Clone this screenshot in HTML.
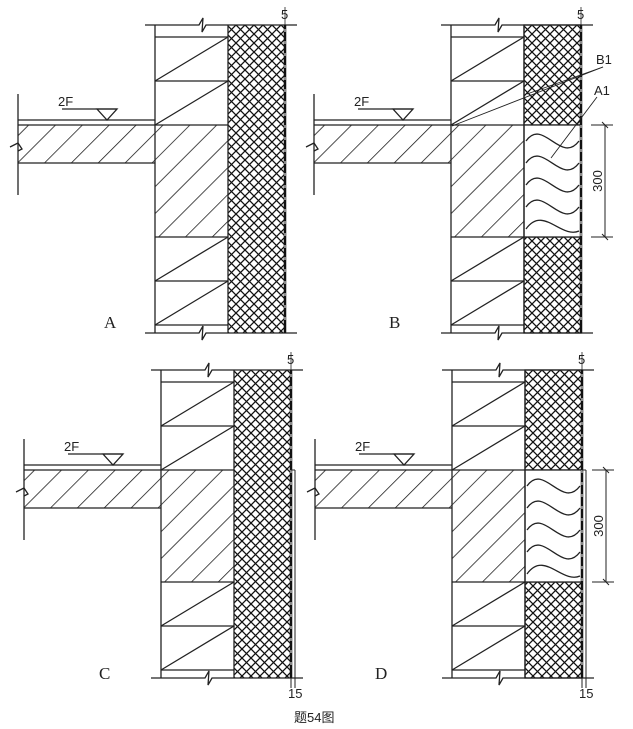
<!DOCTYPE html>
<html><head><meta charset="utf-8"><style>
html,body{margin:0;padding:0;background:#fff;width:633px;height:729px;overflow:hidden}
svg{display:block}
text{font-family:"Liberation Sans","Noto Sans CJK SC",sans-serif;fill:#222}
.s{font-family:"Liberation Serif",serif;font-size:17px}
</style></head><body>
<svg width="633" height="729" viewBox="0 0 633 729" xmlns="http://www.w3.org/2000/svg">
<defs>
<pattern id="xh" width="9" height="9" patternUnits="userSpaceOnUse">
<path d="M0 0L9 9M9 0L0 9" stroke="#111" stroke-width="1.3"/>
</pattern>
<pattern id="dh" width="19" height="19" patternUnits="userSpaceOnUse" patternTransform="rotate(45)">
<line x1="0" y1="0" x2="0" y2="19" stroke="#111" stroke-width="1.5"/>
</pattern>
<g id="base" fill="none" stroke="#222" stroke-width="1.3">
<rect x="-137" y="100" width="137" height="38" fill="url(#dh)" stroke="none"/>
<rect x="0" y="100" width="73" height="112" fill="url(#dh)" stroke="none"/>
<line x1="-137" y1="95" x2="0" y2="95"/>
<line x1="-137" y1="100" x2="73" y2="100"/>
<line x1="-137" y1="138" x2="0" y2="138"/>
<line x1="-137" y1="69" x2="-137" y2="170"/>
<path d="M-145 122 L-137 118 L-133 124 L-137 126"/>
<line x1="-93" y1="84" x2="-38" y2="84"/>
<path d="M-58 84 L-38 84 L-48 95 Z"/>
<line x1="0" y1="0" x2="0" y2="308"/>
<line x1="73" y1="0" x2="73" y2="308"/>
<line x1="0" y1="12" x2="73" y2="12"/>
<line x1="0" y1="56" x2="73" y2="56"/>
<line x1="0" y1="56" x2="73" y2="12"/>
<line x1="0" y1="100" x2="73" y2="56"/>
<line x1="0" y1="212" x2="73" y2="212"/>
<line x1="0" y1="256" x2="73" y2="256"/>
<line x1="0" y1="300" x2="73" y2="300"/>
<line x1="0" y1="256" x2="73" y2="212"/>
<line x1="0" y1="300" x2="73" y2="256"/>
<path d="M-10 0 L44 0 L48 -7 L47 7 L51 0 L142 0"/>
<path d="M-10 308 L44 308 L48 301 L47 315 L51 308 L142 308"/>
<line x1="130" y1="0" x2="130" y2="308" stroke="#111" stroke-width="2.5"/>
<line x1="130" y1="4" x2="130" y2="304" stroke="#fff" stroke-width="1" stroke-dasharray="3 9"/>
<line x1="130" y1="-18" x2="130" y2="0" stroke-width="0.8"/>
</g>
<g id="xfull"><rect x="73" y="0" width="57" height="308" fill="url(#xh)" stroke="#222"/></g>
<g id="xsplit" stroke="#222" stroke-width="1.3">
<rect x="73" y="0" width="57" height="100" fill="url(#xh)"/>
<rect x="73" y="212" width="57" height="96" fill="url(#xh)"/>
<rect x="73" y="100" width="57" height="112" fill="#fff"/>
<path fill="none" d="M75 116 C92 92,110 140,128 116 M75 138 C92 114,110 162,128 138 M75 160 C92 136,110 184,128 160 M75 182 C92 158,110 206,128 182 M75 204 C92 180,110 214,128 206"/>
</g>
<g id="dim" stroke="#222" stroke-width="1" fill="none">
<line x1="154" y1="100" x2="154" y2="212"/>
<line x1="140" y1="100" x2="162" y2="100"/>
<line x1="140" y1="212" x2="162" y2="212"/>
<path d="M151 97 L157 103 M151 209 L157 215"/>
</g>
<g id="out15" stroke="#222" stroke-width="1" fill="none">
<line x1="134" y1="100" x2="134" y2="312"/>
<line x1="130" y1="100" x2="134" y2="100"/>
<line x1="130" y1="308" x2="130" y2="318"/>
<line x1="134" y1="308" x2="134" y2="318"/>
</g>
</defs>

<g transform="translate(155,25)">
<use href="#xfull"/><use href="#base"/>
<text x="-97" y="81" font-size="13">2F</text>
<text x="126" y="-6" font-size="13">5</text>
</g>
<text class="s" x="104" y="328">A</text>

<g transform="translate(451,25)">
<use href="#xsplit"/><use href="#base"/><use href="#dim"/>
<text x="-97" y="81" font-size="13">2F</text>
<text x="126" y="-6" font-size="13">5</text>
<text x="0" y="0" font-size="13" transform="translate(151,156) rotate(-90)" text-anchor="middle">300</text>
<g stroke="#222" stroke-width="0.9"><line x1="152" y1="42" x2="1" y2="101"/><line x1="152" y1="42" x2="76" y2="69"/><line x1="146" y1="72" x2="100" y2="133"/></g>
<text x="145" y="39" font-size="13">B1</text>
<text x="143" y="70" font-size="13">A1</text>
</g>
<text class="s" x="389" y="328">B</text>

<g transform="translate(161,370)">
<use href="#xfull"/><use href="#base"/><use href="#out15"/>
<text x="-97" y="81" font-size="13">2F</text>
<text x="126" y="-6" font-size="13">5</text>
<text x="127" y="328" font-size="13">15</text>
</g>
<text class="s" x="99" y="679">C</text>

<g transform="translate(452,370)">
<use href="#xsplit"/><use href="#base"/><use href="#out15"/><use href="#dim"/>
<text x="-97" y="81" font-size="13">2F</text>
<text x="126" y="-6" font-size="13">5</text>
<text x="127" y="328" font-size="13">15</text>
<text x="0" y="0" font-size="13" transform="translate(151,156) rotate(-90)" text-anchor="middle">300</text>
</g>
<text class="s" x="375" y="679">D</text>

<text x="294" y="722" font-size="13">题54图</text>
</svg>
</body></html>
